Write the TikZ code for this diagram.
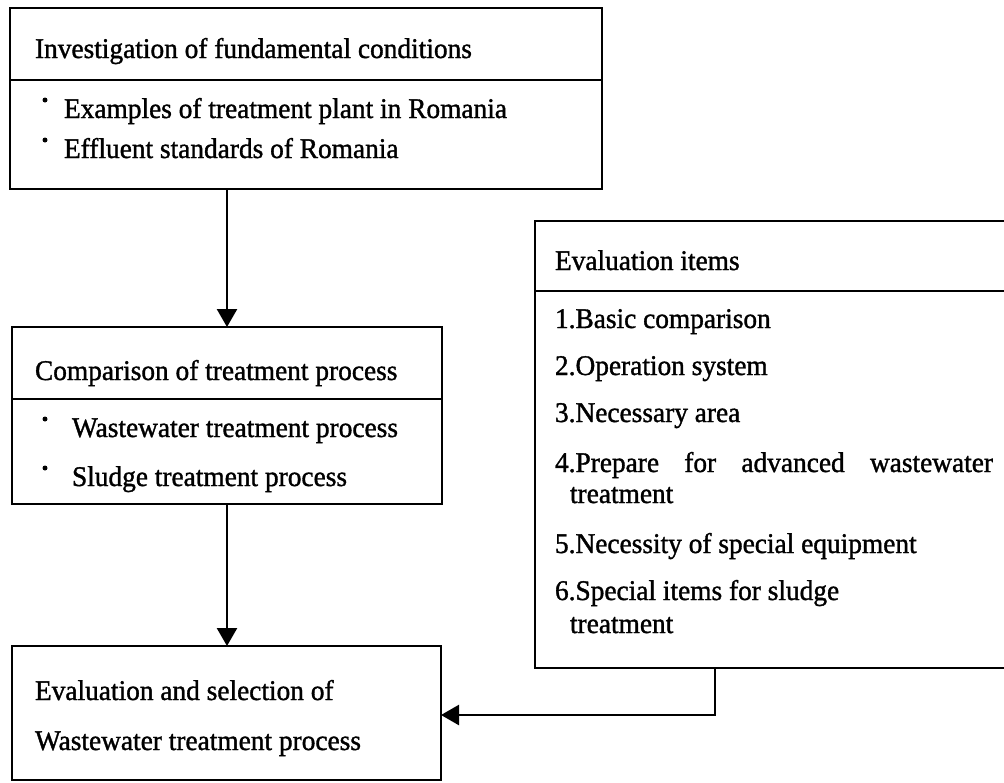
\documentclass[tikz,border=0pt]{standalone}
\usepackage{fontspec}
\setmainfont[FakeBold=1.2,FakeStretch=0.96]{Liberation Serif}
\usetikzlibrary{arrows.meta}
\tikzset{
  box/.style={draw=black, line width=2.2pt, rectangle, inner sep=0pt, outer sep=0pt, anchor=north west},
  txt/.style={anchor=base west, inner sep=0pt, outer sep=0pt, font=\fontsize{28.5}{33}\selectfont},
  divider/.style={line width=2pt},
  conn/.style={line width=2.5pt, -{Triangle[length=18pt,width=20pt]}},
  bul/.style={circle, fill=black, inner sep=0pt, minimum size=5pt}
}
\begin{document}
\begin{tikzpicture}[x=1pt,y=-1pt]
\useasboundingbox (0,0) rectangle (1004,782);
\clip (0,0) rectangle (1004,782);
\fill[white] (0,0) rectangle (1004,782);
% Box 1
\node[box, minimum width=592pt, minimum height=181pt] (b1) at (10,8) {};
\coordinate (d1) at (10,80);
\draw[divider] (b1.west |- d1) -- (b1.east |- d1);
\node[txt] (t1) at (35,58) {Investigation of fundamental conditions};
\node[bul] (p11) at (45,100) {};
\node[txt] (t11) at (64,118) {Examples of treatment plant in Romania};
\node[bul] (p12) at (45,140) {};
\node[txt] (t12) at (64,158) {Effluent standards of Romania};
% Box 2
\node[box, minimum width=430pt, minimum height=177pt] (b2) at (12,327) {};
\coordinate (d2) at (12,399);
\draw[divider] (b2.west |- d2) -- (b2.east |- d2);
\node[txt] (t2) at (35,380) {Comparison of treatment process};
\node[bul] (p21) at (45,419) {};
\node[txt] (t21) at (72,437) {Wastewater treatment process};
\node[bul] (p22) at (45,468) {};
\node[txt] (t22) at (72,486) {Sludge treatment process};
% Box 3
\node[box, minimum width=429pt, minimum height=134pt] (b3) at (12,646) {};
\node[txt] (t31) at (35,700) {Evaluation and selection of};
\node[txt] (t32) at (35,750) {Wastewater treatment process};
% Evaluation items box
\node[box, minimum width=480pt, minimum height=447pt] (ev) at (535,221) {};
\coordinate (d4) at (535,291);
\draw[divider] (ev.west |- d4) -- (ev.east |- d4);
\node[txt] (e0) at (555,270) {Evaluation items};
\node[txt] (e1) at (555,328) {1.Basic comparison};
\node[txt] (e2) at (555,375) {2.Operation system};
\node[txt] (e3) at (555,422) {3.Necessary area};
\node[txt] (e4) at (555,472) {\hbox to 438pt{4.Prepare\hfill for\hfill advanced\hfill wastewater}};
\node[txt] (e4b) at (570,503) {treatment};
\node[txt] (e5) at (555,553) {5.Necessity of special equipment};
\node[txt] (e6) at (555,600) {6.Special items for sludge};
\node[txt] (e6b) at (570,633) {treatment};
% Connectors
\coordinate (cx) at (227,0);
\draw[conn] (b1.south -| cx) -- (b2.north -| cx);
\draw[conn] (b2.south -| cx) -- (b3.north -| cx);
\coordinate (ex) at (715,715);
\draw[conn] (ev.south -| ex) -- (ex) -- (b3.east |- ex);
\end{tikzpicture}
\end{document}
